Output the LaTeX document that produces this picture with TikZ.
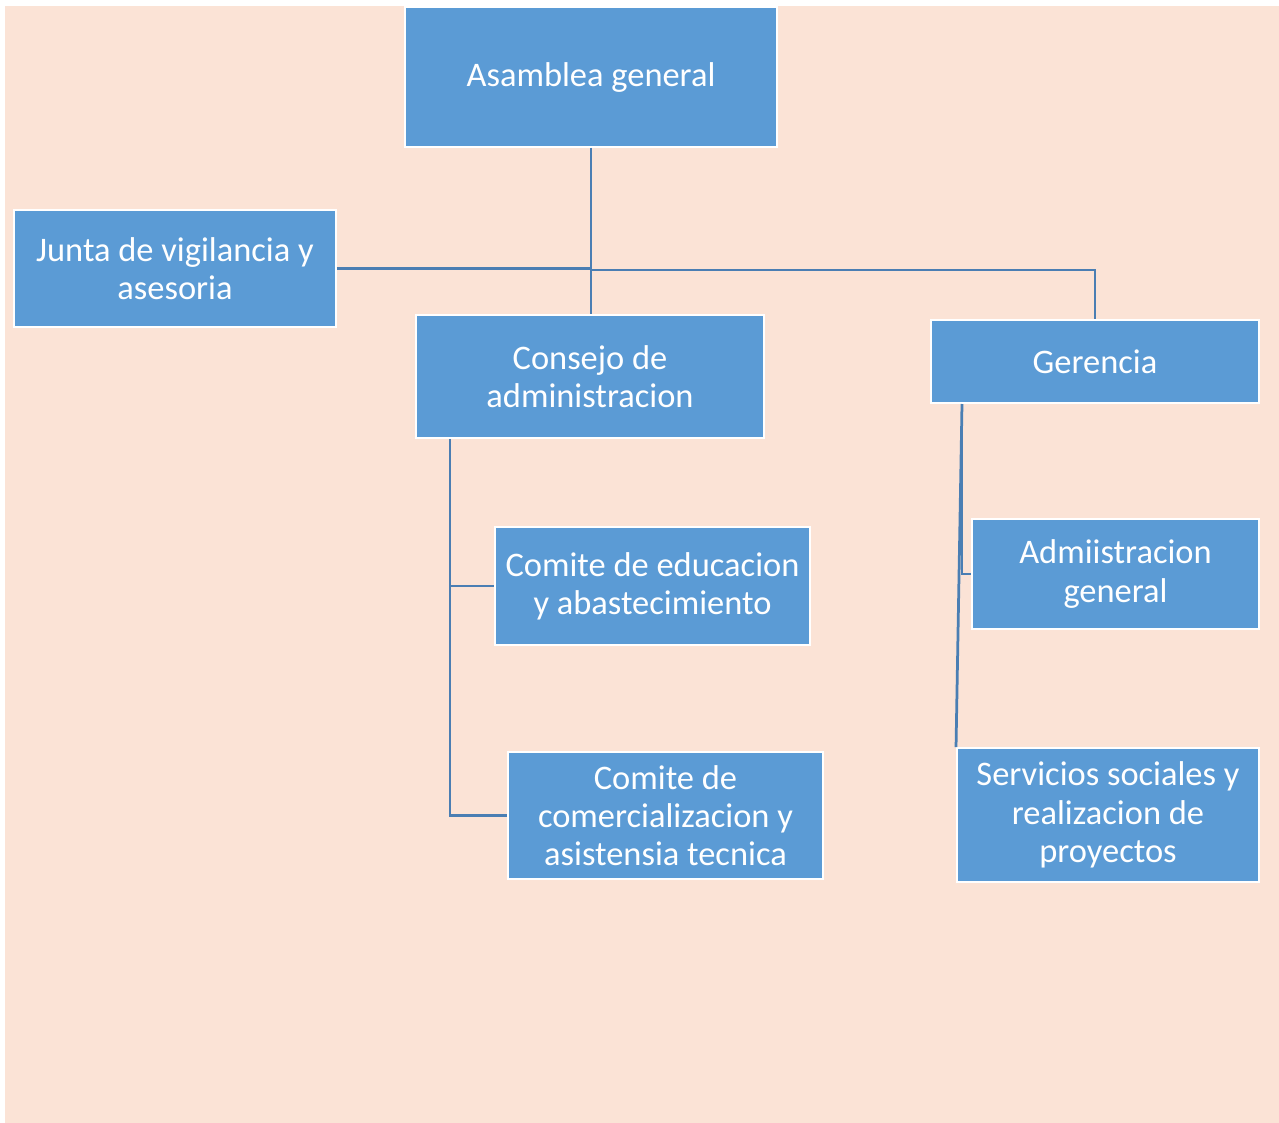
\documentclass[tikz,border=0pt]{standalone}
\usepackage{fontspec}
\setmainfont{Carlito}
\usepackage{xcolor}
\usetikzlibrary{positioning}
\definecolor{peach}{HTML}{FBE3D6}
\definecolor{boxblue}{HTML}{5B9BD5}
\definecolor{linkblue}{HTML}{4A7EB3}

\begin{document}
\begin{tikzpicture}[
  x=0.02cm, y=-0.02cm,
  box/.style={draw=white, line width=0.04cm, fill=boxblue, text=white, align=center, inner sep=0pt,
    font=\fontsize{19.6}{21.8}\selectfont},
  link/.style={draw=linkblue, line width=0.055cm}
]
  \useasboundingbox (0,0) rectangle (1279,1123);
  \fill[peach] (5,6) rectangle (1279,1123);

  \node[box, minimum width=7.44cm, minimum height=2.8cm] (asamblea) at (591,77) {Asamblea general};
  \node[box, minimum width=6.44cm, minimum height=2.34cm] (junta) at (175,268.5) {Junta de vigilancia y\\asesoria};
  \node[box, minimum width=6.96cm, minimum height=2.46cm] (consejo) at (590,376.5) {Consejo de\\administracion};
  \node[box, minimum width=6.56cm, minimum height=1.66cm] (gerencia) at (1095,361.5) {Gerencia};
  \node[box, minimum width=6.3cm, minimum height=2.36cm] (educacion) at (652.5,586) {Comite de educacion\\y abastecimiento};
  \node[box, minimum width=6.3cm, minimum height=2.54cm] (comercial) at (665.5,815.5) {Comite de\\comercializacion y\\asistensia tecnica};
  \node[box, minimum width=5.74cm, minimum height=2.2cm] (admin) at (1115.5,574) {Admiistracion\\general};
  \node[box, minimum width=6.04cm, minimum height=2.68cm] (servicios) at (1108,815) {Servicios sociales y\\realizacion de\\proyectos};

  \coordinate (hub) at (591,270);
  \coordinate (ctrunk) at (450,439);
  \coordinate (gtrunk) at (962,404);

  \draw[link] (asamblea.south) -- (hub);
  \draw[link] (junta.east) -- (junta.east -| hub);
  \draw[link] (hub) -- (hub |- consejo.north);
  \draw[link] (hub) -| (gerencia.north);
  \draw[link] (ctrunk) |- (educacion.west);
  \draw[link] (ctrunk) |- (comercial.west);
  \draw[link] (gtrunk) |- (admin.west);
  \draw[link] (gtrunk) -- (servicios.north west);
\end{tikzpicture}
\end{document}
